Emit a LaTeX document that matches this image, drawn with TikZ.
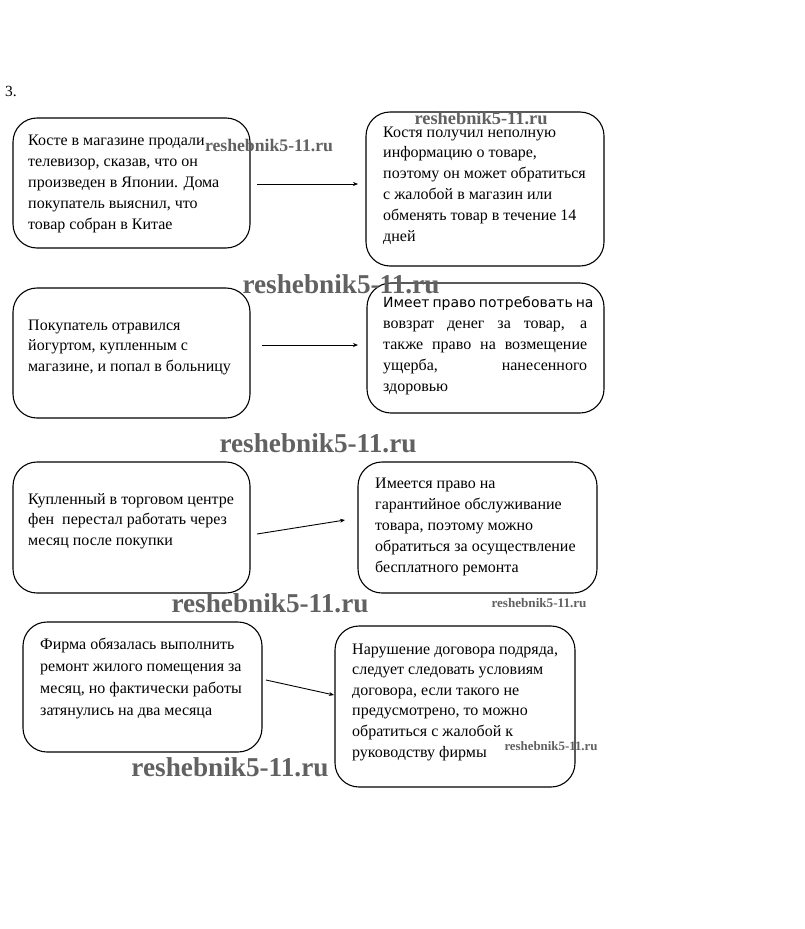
\documentclass[tikz,border=0pt]{standalone}
\usepackage{fontspec}
\setmainfont{Liberation Serif}
\newfontfamily\sansf{DejaVu Sans}
\usetikzlibrary{arrows.meta}
\newcommand{\wmk}[1]{\resizebox{#1pt}{!}{\bfseries reshebnik5-11.ru}}
\begin{document}
\begin{tikzpicture}[x=1pt,y=-1pt,
  box/.style={draw=black,line width=1.1pt,rounded corners=24pt},
  txt/.style={anchor=base west,inner sep=0pt},
  conn/.style={line width=0.9pt,-{Stealth[length=5pt,width=4pt]}},
  wm/.style={inner sep=0pt,text=black!62}]
\useasboundingbox[fill=white] (0,0) rectangle (805,929);
\node[anchor=base west,inner sep=0pt,font=\fontsize{15.5}{17}\selectfont] (num) at (5,96) {3.};
% boxes
\draw[box] (13,118) rectangle (250,248);
\draw[box] (366,112) rectangle (604,266);
\draw[box] (13,288) rectangle (250,418);
\draw[box] (367,283) rectangle (604,413);
\draw[box] (13,462) rectangle (250,593);
\draw[box] (358,462) rectangle (597,593);
\draw[box] (23,622) rectangle (262,752);
\draw[box] (335,626) rectangle (575,787);
% texts
\node[txt] (t1) at (28,145) {\parbox[t]{240pt}{\raggedright\fontsize{16}{21}\selectfont
Косте в магазине продали\\ телевизор, сказав, что он\\ произведен в Японии. Дома\\ покупатель выяснил, что\\ товар собран в Китае}};
\node[txt] (t2) at (383,137) {\parbox[t]{240pt}{\raggedright\fontsize{16}{20.8}\selectfont
Костя получил неполную\\ информацию о товаре,\\ поэтому он может обратиться\\ с жалобой в магазин или\\ обменять товар в течение 14\\ дней}};
\node[txt] (t3) at (28,330) {\parbox[t]{240pt}{\raggedright\fontsize{16}{20.5}\selectfont
Покупатель отравился\\ йогуртом, купленным с\\ магазине, и попал в больницу}};
\node[txt] (t4) at (383,307) {\parbox[t]{204pt}{\fontsize{16}{21}\selectfont
\makebox[204pt][s]{\sansf\fontsize{14}{21}\selectfont Имеет право потребовать на}\\
\makebox[204pt][s]{вовзрат денег за товар, а}\\
\makebox[204pt][s]{также право на возмещение}\\
\makebox[204pt][s]{ущерба, нанесенного}\\
здоровью}};
\node[txt] (t5) at (28,504) {\parbox[t]{240pt}{\raggedright\fontsize{16}{20.5}\selectfont
Купленный в торговом центре\\ фен\ \ перестал работать через\\ месяц после покупки}};
\node[txt] (t6) at (375,488) {\parbox[t]{240pt}{\raggedright\fontsize{16}{21}\selectfont
Имеется право на\\ гарантийное обслуживание\\ товара, поэтому можно\\ обратиться за осуществление\\ бесплатного ремонта}};
\node[txt] (t7) at (40,649) {\parbox[t]{240pt}{\raggedright\fontsize{16}{22}\selectfont
Фирма обязалась выполнить\\ ремонт жилого помещения за\\ месяц, но фактически работы\\ затянулись на два месяца}};
\node[txt] (t8) at (352,654) {\parbox[t]{240pt}{\raggedright\fontsize{16}{20.6}\selectfont
Нарушение договора подряда,\\ следует следовать условиям\\ договора, если такого не\\ предусмотрено, то можно\\ обратиться с жалобой к\\ руководству фирмы}};
% connectors
\coordinate (a1s) at (257,184); \coordinate (a1e) at (358,184);
\coordinate (a2s) at (262,345); \coordinate (a2e) at (358,345);
\coordinate (a3s) at (257,534); \coordinate (a3e) at (345,520);
\coordinate (a4s) at (266,680); \coordinate (a4e) at (334,695);
\draw[conn] (a1s) -- (a1e);
\draw[conn] (a2s) -- (a2e);
\draw[conn] (a3s) -- (a3e);
\draw[conn] (a4s) -- (a4e);
% watermarks
\node[wm] (w1) at (269,145) {\wmk{128}};
\node[wm] (w2) at (481,118) {\wmk{133}};
\node[wm] (w3) at (341,284) {\wmk{197}};
\node[wm] (w4) at (318,443) {\wmk{197}};
\node[wm] (w5) at (270,603) {\wmk{197}};
\node[wm] (w6) at (539,603) {\wmk{95}};
\node[wm] (w7) at (551,746) {\wmk{93}};
\node[wm] (w8) at (230,767) {\wmk{197}};
\end{tikzpicture}
\end{document}
